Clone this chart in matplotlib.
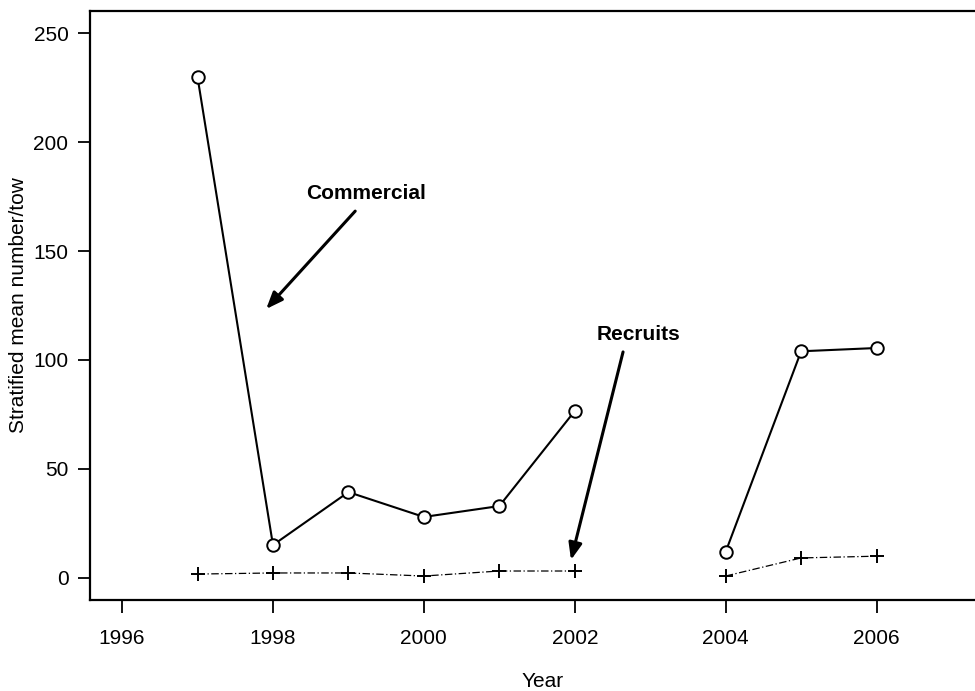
import numpy as np
import matplotlib.pyplot as plt

plt.rcParams['font.family'] = ['Liberation Sans', 'DejaVu Sans']

# survey years (no survey in 2003)
years = [1997, 1998, 1999, 2000, 2001, 2002, 2003, 2004, 2005, 2006]
commercial = [229.8, 15.1, 39.4, 28.0, 33.0, 76.6, np.nan, 12.0, 104.0, 105.5]
recruits = [1.8, 2.3, 2.3, 0.9, 3.2, 3.2, np.nan, 0.9, 9.2, 10.0]
xticks = [1996, 1998, 2000, 2002, 2004, 2006]
yticks = [0, 50, 100, 150, 200, 250]

fig = plt.figure(figsize=(9.75, 6.91), dpi=100)
ax = fig.add_axes([90/975, 91/691, 1.02 - 90/975, 589/691])

ax.plot(years, commercial, '-', color='black', lw=1.5,
        marker='o', ms=9, mfc='white', mec='black', mew=1.4)
ax.plot(years, recruits, color='black', lw=0.9, linestyle=(0, (6, 2, 1, 2)),
        marker='+', ms=10, mew=1.4)

ax.set_xlim(1995.575, 1995.575 + 1.02 * 885 / 75.3)
ax.set_ylim(-10.1, 260.1)
ax.set_xticks(xticks)
ax.set_yticks(yticks)
ax.tick_params(direction='out', length=9, width=1.3, labelsize=15, colors='black')
ax.tick_params(axis='x', pad=12)
ax.tick_params(axis='y', pad=6.5)
for s in ax.spines.values():
    s.set_linewidth(1.6)
ax.spines['right'].set_visible(False)

ax.set_xlabel('Year', fontsize=15, labelpad=17)
ax.set_ylabel('Stratified mean number/tow', fontsize=15, labelpad=4)

# labels with arrows
ax.text(1999.23, 176.6, 'Commercial', fontsize=15, fontweight='bold', ha='center', va='center')
ax.annotate('', xy=(1997.91, 123.4), xytext=(1999.09, 168.3),
            arrowprops=dict(arrowstyle='-|>,head_length=1.0,head_width=0.4',
                            color='black', lw=2.2, shrinkA=0, shrinkB=0))
ax.text(2002.85, 111.9, 'Recruits', fontsize=15, fontweight='bold', ha='center', va='center')
ax.annotate('', xy=(2001.95, 8.3), xytext=(2002.64, 103.7),
            arrowprops=dict(arrowstyle='-|>,head_length=1.0,head_width=0.4',
                            color='black', lw=2.2, shrinkA=0, shrinkB=0))

fig.savefig('out.png', dpi=100)
